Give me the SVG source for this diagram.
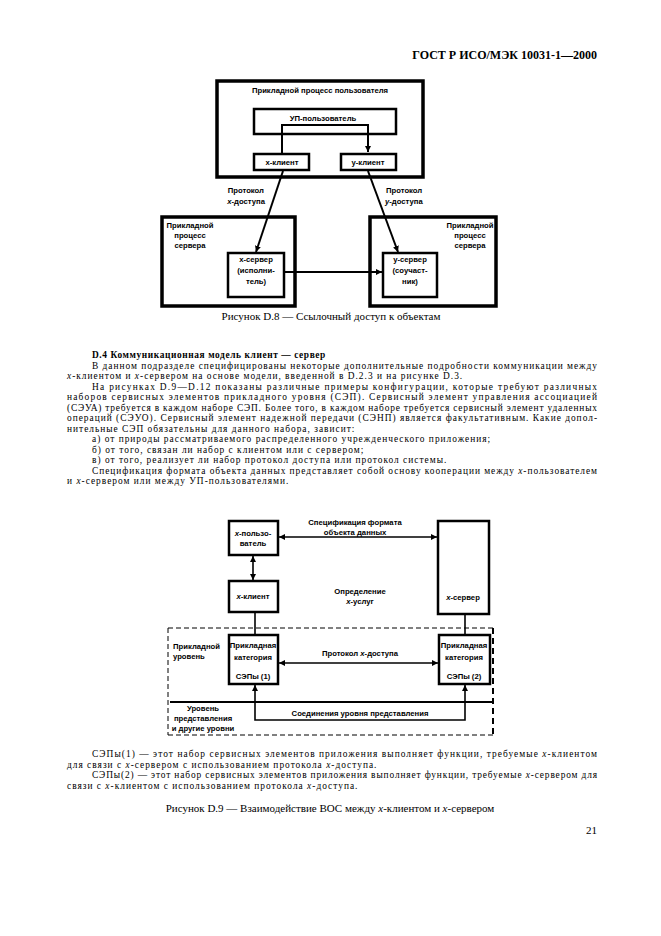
<svg xmlns="http://www.w3.org/2000/svg" width="661" height="936" viewBox="0 0 661 936">
<style>
.bg{fill:#fff}
.body{font-family:"Liberation Serif","Times New Roman",serif;font-size:9.4px;letter-spacing:1px;fill:#000}
.cap{font-family:"Liberation Serif","Times New Roman",serif;font-size:11px;fill:#000}
.bold{font-weight:bold;letter-spacing:0.6px}
.hdr{font-family:"Liberation Serif","Times New Roman",serif;font-size:12px;font-weight:bold;fill:#000}
.d{font-family:"Liberation Sans",Arial,sans-serif;font-size:7.7px;font-weight:bold;fill:#000}
.c{text-anchor:middle}
.e{text-anchor:end}
.i{font-style:italic}
.box1{fill:none;stroke:#000;stroke-width:3.5}
.box2{fill:none;stroke:#000;stroke-width:2.5}
.ln{fill:none;stroke:#000;stroke-width:2}
.ln2{fill:none;stroke:#000;stroke-width:1.6}
.dash{fill:none;stroke:#000;stroke-width:1;stroke-dasharray:5 3}
.dashb{fill:none;stroke:#000;stroke-width:2;stroke-dasharray:6 4}
</style>
<defs>
<marker id="ar" viewBox="0 0 6 6" refX="6" refY="3" markerWidth="6" markerHeight="6" markerUnits="userSpaceOnUse" orient="auto-start-reverse">
<path d="M0,0 L6,3 L0,6 z" fill="#000"/>
</marker>
</defs>
<rect class="bg" x="0" y="0" width="661" height="936"/>

<text class="hdr e" x="597" y="59">ГОСТ Р ИСО/МЭК 10031-1—2000</text>

<!-- Figure D.8 -->
<g id="user-process"><rect class="box1" x="217" y="81" width="206" height="96"/><text class="d c" x="320" y="92.5">Прикладной процесс пользователя</text></g>
<g id="up-user"><rect class="box2" x="254" y="109" width="142" height="25"/><text class="d c" x="323" y="120.5">УП-пользователь</text></g>
<g id="x-client"><rect class="box2" x="254" y="154" width="55" height="16"/><text class="d c" x="282" y="164.5">x-клиент</text></g>
<g id="y-client"><rect class="box2" x="341" y="154" width="55" height="16"/><text class="d c" x="368" y="164.5">y-клиент</text></g>
<g id="server-left"><rect class="box1" x="162" y="217" width="133" height="89"/><text class="d c" x="190" y="227.5">Прикладной</text><text class="d c" x="190" y="237.5">процесс</text><text class="d c" x="190" y="247.5">сервера</text></g>
<g id="x-server"><rect class="box2" x="228" y="253" width="56" height="44"/><text class="d c" x="256" y="262">x-сервер</text><text class="d c" x="256" y="273">(исполни-</text><text class="d c" x="256" y="284">тель)</text></g>
<g id="server-right"><rect class="box1" x="370" y="217" width="126" height="89"/><text class="d c" x="470" y="227.5">Прикладной</text><text class="d c" x="470" y="237.5">процесс</text><text class="d c" x="470" y="247.5">сервера</text></g>
<g id="y-server"><rect class="box2" x="383" y="253" width="54" height="44"/><text class="d c" x="410" y="262">y-сервер</text><text class="d c" x="410" y="273">(соучаст-</text><text class="d c" x="410" y="284">ник)</text></g>
<g id="connectors-d8">
<path class="ln" d="M282,153 V125 H368 V152" marker-end="url(#ar)"/>
<path class="ln" d="M283,171 L256,252" marker-end="url(#ar)"/>
<path class="ln" d="M368,171 L398,252" marker-end="url(#ar)"/>
<path class="ln" d="M285,272 H382" marker-end="url(#ar)"/>
</g>
<g id="labels-d8">
<text class="d e" x="264" y="192.5">Протокол</text><text class="d e" x="265" y="203.5"><tspan class="i">x</tspan>-доступа</text>
<text class="d" x="386" y="192.5">Протокол</text><text class="d" x="385" y="203.5"><tspan class="i">y</tspan>-доступа</text>
</g>
<text class="cap c" x="331" y="319.5">Рисунок D.8 — Ссылочный доступ к объектам</text>

<!-- Body text -->
<text class="body bold" x="92" y="358">D.4  Коммуникационная модель клиент — сервер</text>
<text class="body" x="92" y="368.5" textLength="506" lengthAdjust="spacing">В данном подразделе специфицированы некоторые дополнительные подробности коммуникации между</text>
<text class="body" x="67" y="379"><tspan class="i">x</tspan>-клиентом и <tspan class="i">x</tspan>-сервером на основе модели, введенной в D.2.3 и на рисунке D.3.</text>
<text class="body" x="92" y="389.5" textLength="506" lengthAdjust="spacing">На рисунках D.9—D.12 показаны различные примеры конфигурации, которые требуют различных</text>
<text class="body" x="67" y="400" textLength="531" lengthAdjust="spacing">наборов сервисных элементов прикладного уровня (СЭП). Сервисный элемент управления ассоциацией</text>
<text class="body" x="67" y="410.5" textLength="531" lengthAdjust="spacing">(СЭУА) требуется в каждом наборе СЭП. Более того, в каждом наборе требуется сервисный элемент удаленных</text>
<text class="body" x="67" y="421" textLength="531" lengthAdjust="spacing">операций (СЭУО). Сервисный элемент надежной передачи (СЭНП) является факультативным. Какие допол-</text>
<text class="body" x="67" y="431.5">нительные СЭП обязательны для данного набора, зависит:</text>
<text class="body" x="92" y="442">а) от природы рассматриваемого распределенного учрежденческого приложения;</text>
<text class="body" x="92" y="452.5">б) от того, связан ли набор с клиентом или с сервером;</text>
<text class="body" x="92" y="463">в) от того, реализует ли набор протокол доступа или протокол системы.</text>
<text class="body" x="92" y="473.5" textLength="506" lengthAdjust="spacing">Спецификация формата объекта данных представляет собой основу кооперации между <tspan class="i">x</tspan>-пользователем</text>
<text class="body" x="67" y="484">и <tspan class="i">x</tspan>-сервером или между УП-пользователями.</text>

<!-- Figure D.9 -->
<g id="x-user"><rect class="box2" x="229" y="521" width="49" height="34"/><text class="d c" x="253" y="535.5"><tspan class="i">x</tspan>-пользо-</text><text class="d c" x="253" y="545.5">ватель</text></g>
<g id="x-server-2"><rect class="box2" x="438" y="521" width="51" height="93"/><text class="d c" x="463" y="599.5"><tspan class="i">x</tspan>-сервер</text></g>
<g id="x-client-2"><rect class="box2" x="229" y="581" width="49" height="31"/><text class="d c" x="253" y="598.5"><tspan class="i">x</tspan>-клиент</text></g>
<g id="sep1"><rect class="box2" x="229" y="635" width="49" height="49"/><text class="d c" x="253" y="647.5">Прикладная</text><text class="d c" x="253" y="659.5">категория</text><text class="d c" x="253" y="679">СЭПы (1)</text></g>
<g id="sep2"><rect class="box2" x="439" y="635" width="51" height="49"/><text class="d c" x="464" y="647.5">Прикладная</text><text class="d c" x="464" y="659.5">категория</text><text class="d c" x="464" y="679">СЭПы (2)</text></g>
<g id="levels">
<path class="dash" d="M168,628 H493 M168,628 V735 M168,735 H493"/>
<path class="dashb" d="M493,628 V735"/>
<path class="ln" d="M170,702 H492"/>
<text class="d" x="173" y="648.5">Прикладной</text><text class="d" x="173" y="658.5">уровень</text>
<text class="d c" x="203" y="710.5">Уровень</text><text class="d c" x="203" y="720.5">представления</text><text class="d c" x="203" y="730.5">и другие уровни</text>
</g>
<g id="connectors-d9">
<path class="ln2" d="M279,537 H437" marker-start="url(#ar)" marker-end="url(#ar)"/>
<path class="ln2" d="M253,556 V580" marker-start="url(#ar)" marker-end="url(#ar)"/>
<path class="ln2" d="M255,612 V634"/>
<path class="ln2" d="M465,615 V634"/>
<path class="ln2" d="M279,663 H438" marker-start="url(#ar)" marker-end="url(#ar)"/>
<path class="ln2" d="M255,685 V720 H465 V685" marker-start="url(#ar)" marker-end="url(#ar)"/>
</g>
<g id="labels-d9">
<text class="d c" x="355" y="524.5">Спецификация формата</text><text class="d c" x="355" y="534.5">объекта данных</text>
<text class="d c" x="360" y="593.5">Определение</text><text class="d c" x="360" y="603.5"><tspan class="i">x</tspan>-услуг</text>
<text class="d c" x="360" y="655.5">Протокол <tspan class="i">x</tspan>-доступа</text>
<text class="d c" x="360" y="716">Соединения уровня представления</text>
</g>

<text class="body" x="92" y="757" textLength="506" lengthAdjust="spacing">СЭПы(1) — этот набор сервисных элементов приложения выполняет функции, требуемые <tspan class="i">x</tspan>-клиентом</text>
<text class="body" x="67" y="767.5">для связи с <tspan class="i">x</tspan>-сервером с использованием протокола <tspan class="i">x</tspan>-доступа.</text>
<text class="body" x="92" y="778" textLength="506" lengthAdjust="spacing">СЭПы(2) — этот набор сервисных элементов приложения выполняет функции, требуемые <tspan class="i">x</tspan>-сервером для</text>
<text class="body" x="67" y="788.5">связи с <tspan class="i">x</tspan>-клиентом с использованием протокола <tspan class="i">x</tspan>-доступа.</text>
<text class="cap c" x="330" y="811.5">Рисунок D.9 — Взаимодействие ВОС между <tspan class="i">x</tspan>-клиентом и <tspan class="i">x</tspan>-сервером</text>
<text class="cap e" x="597" y="834">21</text>
</svg>
